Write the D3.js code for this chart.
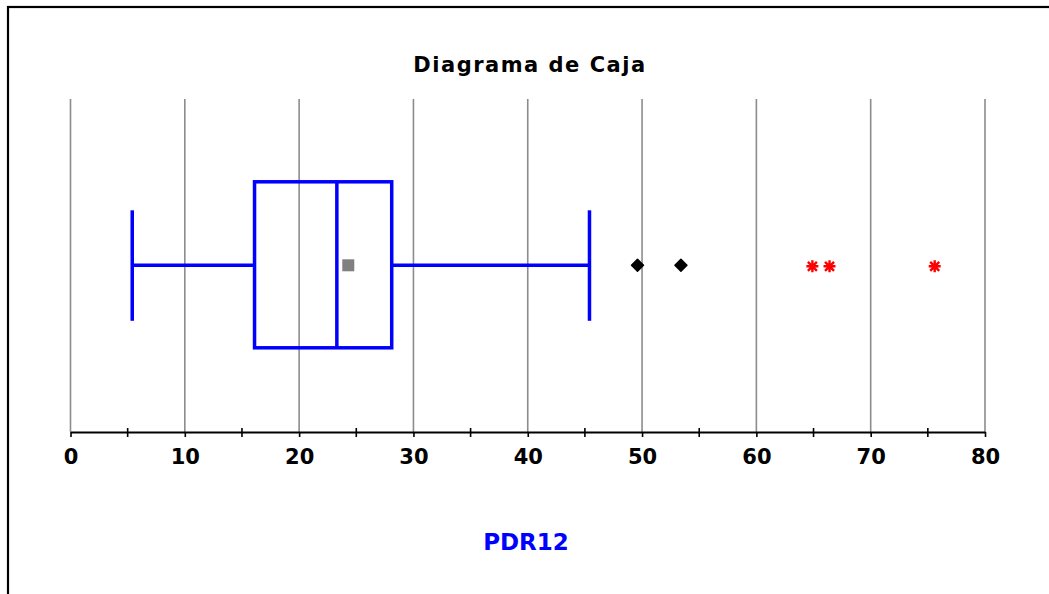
<!DOCTYPE html>
<html><head><meta charset="utf-8">
<script src="https://cdn.jsdelivr.net/npm/d3@7"></script>
<style>html,body{margin:0;padding:0;background:#fff;overflow:hidden}</style>
</head><body>
<svg id="c" width="1049" height="594"></svg>
<script>
const title = "Diagrama de Caja";
const varName = "PDR12";
const stats = ["min","q1","median","q3","max"];
const statValues = [5.4, 16.1, 23.3, 28.1, 45.4];
const meanValue = [24.3];
const mildOutliers = [49.6, 53.4];
const extremeOutliers = [64.9, 66.4, 75.6];
const majorTicks = [0,10,20,30,40,50,60,70,80];
const minorTicks = [5,15,25,35,45,55,65,75];

const S = {}; stats.forEach((k,i)=>S[k]=statValues[i]);
const svg = d3.select("#c");
const x = d3.scaleLinear().domain([0,80]).range([70.5,985]);
const y = d3.scaleLinear().domain([0,1]).range([432,99]);
const yc = 265.3;

// frame
svg.append("rect").attr("x",8).attr("y",7).attr("width",1200).attr("height",800)
  .attr("fill","none").attr("stroke","#000").attr("stroke-width",2.2);

// title
svg.append("text").attr("x",530).attr("y",72).attr("text-anchor","middle")
  .attr("font-family","DejaVu Sans").attr("font-weight","bold").attr("font-size",21)
  .attr("letter-spacing","1.5px").attr("fill","#000").text(title);

// gridlines
svg.append("g").selectAll("line").data(majorTicks).join("line")
  .attr("x1",d=>x(d)).attr("x2",d=>x(d)).attr("y1",y(1)).attr("y2",y(0))
  .attr("stroke","#8c8c8c").attr("stroke-width",1.6);

// axis
const axis = d3.axisBottom(x).tickValues(majorTicks).tickSize(5).tickPadding(12).tickSizeOuter(0);
const ga = svg.append("g").attr("transform",`translate(0,${y(0)})`).call(axis);
ga.select(".domain").attr("stroke","#000").attr("stroke-width",2);
ga.selectAll(".tick line").attr("stroke","#000").attr("stroke-width",1.6);
ga.selectAll(".tick text").attr("font-family","DejaVu Sans").attr("font-weight","bold")
  .attr("font-size",21).attr("fill","#000");
svg.append("g").selectAll("line").data(minorTicks).join("line")
  .attr("x1",d=>x(d)).attr("x2",d=>x(d)).attr("y1",y(0)-4).attr("y2",y(0)+5)
  .attr("stroke","#000").attr("stroke-width",1.6);

// box
const blue = "#0000ff";
const g = svg.append("g").attr("stroke",blue).attr("stroke-width",3.5).attr("fill","none");
g.append("line").attr("x1",x(S.min)).attr("x2",x(S.q1)).attr("y1",yc).attr("y2",yc);
g.append("line").attr("x1",x(S.q3)).attr("x2",x(S.max)).attr("y1",yc).attr("y2",yc);
[S.min,S.max].forEach(v=>g.append("line").attr("x1",x(v)).attr("x2",x(v)).attr("y1",yc-55).attr("y2",yc+55.5));
g.append("rect").attr("x",x(S.q1)).attr("y",yc-83.5).attr("width",x(S.q3)-x(S.q1)).attr("height",166);
g.append("line").attr("x1",x(S.median)).attr("x2",x(S.median)).attr("y1",yc-83.5).attr("y2",yc+82.5);

// mean
svg.append("g").selectAll("rect").data(meanValue).join("rect")
  .attr("x",d=>x(d)-6).attr("y",yc-6).attr("width",12).attr("height",12).attr("fill","#808080");

// mild outliers (diamonds)
svg.append("g").selectAll("path").data(mildOutliers).join("path")
  .attr("d",d=>`M${x(d)},${yc-6}L${x(d)+6},${yc}L${x(d)},${yc+6}L${x(d)-6},${yc}Z`)
  .attr("fill","#000").attr("stroke","#000").attr("stroke-width",1.5).attr("stroke-linejoin","round");

// extreme outliers (asterisks)
const r = 6, rd = 4.5;
svg.append("g").selectAll("path").data(extremeOutliers).join("path")
  .attr("d",d=>{const cx=x(d),cy=yc+1;return `M${cx-r},${cy}L${cx+r},${cy}M${cx},${cy-r}L${cx},${cy+r}M${cx-rd},${cy-rd}L${cx+rd},${cy+rd}M${cx-rd},${cy+rd}L${cx+rd},${cy-rd}`;})
  .attr("stroke","#ff0000").attr("stroke-width",2.4).attr("fill","none");

// variable label
svg.append("text").attr("x",526).attr("y",550).attr("text-anchor","middle")
  .attr("font-family","DejaVu Sans").attr("font-weight","bold").attr("font-size",23)
  .attr("fill",blue).text(varName);
</script>
</body></html>
